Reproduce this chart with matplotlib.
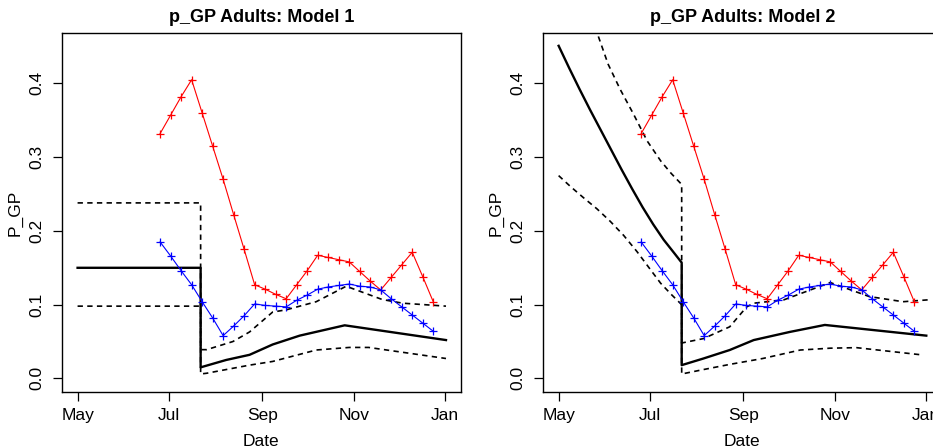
import pandas as pd
import matplotlib
matplotlib.use("Agg")
import matplotlib.pyplot as plt
import matplotlib.dates as mdates

plt.rcParams['font.family'] = ['Liberation Sans', 'DejaVu Sans']

start = pd.Timestamp("2009-05-01")

# weekly observed series (both panels share them)
obs_dates = pd.date_range("2009-06-25", periods=27, freq="7D")
red_vals = [0.332, 0.357, 0.382, 0.405, 0.360, 0.315, 0.270, 0.222, 0.175,
            0.127, 0.121, 0.114, 0.108, 0.127, 0.146, 0.167, 0.164, 0.161,
            0.158, 0.145, 0.132, 0.120, 0.137, 0.154, 0.171, 0.138, 0.104]
blue_vals = [0.185, 0.166, 0.146, 0.127, 0.104, 0.082, 0.058, 0.071, 0.085,
             0.101, 0.099, 0.098, 0.097, 0.106, 0.113, 0.121, 0.124, 0.126,
             0.128, 0.125, 0.124, 0.120, 0.108, 0.097, 0.086, 0.075, 0.064]

# model curves, x given as days since May 1
m1_mid_days = [0, 82, 82, 99, 114.6, 130, 148, 178, 245.5]
m1_mid_vals = [0.150, 0.150, 0.015, 0.025, 0.032, 0.046, 0.058, 0.072, 0.052]
m1_hi_days = [0, 82, 82, 86, 103.5, 114.6, 130, 139, 159, 179, 203, 216.6, 245.5]
m1_hi_vals = [0.238, 0.238, 0.039, 0.039, 0.050, 0.063, 0.090, 0.093, 0.104,
              0.125, 0.107, 0.102, 0.098]
m1_lo_days = [0, 82, 82, 86, 114.6, 130, 159, 181, 194, 245.5]
m1_lo_vals = [0.098, 0.098, 0.006, 0.007, 0.018, 0.023, 0.0385, 0.042, 0.042, 0.027]

m2_mid_days = [0, 7, 14, 21, 28, 35, 42, 49, 56, 63, 70, 77, 82,
               82, 96.5, 114, 130, 154, 177.4, 245]
m2_mid_vals = [0.451, 0.421, 0.392, 0.364, 0.337, 0.310, 0.283, 0.257, 0.232,
               0.209, 0.188, 0.170, 0.157,
               0.018, 0.027, 0.0385, 0.052, 0.063, 0.0725, 0.058]
m2_hi_days = [0, 7, 14, 20, 26.6, 33, 41, 50, 59, 68, 75, 82,
              82, 96.5, 114, 125.3, 130, 150, 181, 207, 229.5, 246]
m2_hi_vals = [0.68, 0.62, 0.565, 0.515, 0.463, 0.426, 0.392, 0.358, 0.322,
              0.295, 0.278, 0.263,
              0.048, 0.054, 0.070, 0.097, 0.102, 0.1065, 0.130, 0.111, 0.104, 0.1065]
m2_lo_days = [0, 8, 16.6, 25.5, 34.4, 43.3, 52.2, 61, 68, 75, 82,
              82, 96.5, 114, 136, 161, 181, 198.5, 243]
m2_lo_vals = [0.275, 0.260, 0.245, 0.230, 0.213, 0.194, 0.172, 0.148, 0.129,
              0.114, 0.100,
              0.006, 0.012, 0.019, 0.027, 0.0385, 0.041, 0.0417, 0.0317]

titles = ["p_GP Adults: Model 1", "p_GP Adults: Model 2"]
yticks = [0.0, 0.1, 0.2, 0.3, 0.4]


def to_dates(days):
    return start + pd.to_timedelta(days, unit="D")


fig = plt.figure(figsize=(9.33, 4.48), dpi=100)
ax1 = fig.add_axes([0.0661, 0.1257, 0.428, 0.800])
ax2 = fig.add_axes([0.5817, 0.1257, 0.428, 0.800])

models = [
    (m1_mid_days, m1_mid_vals, m1_hi_days, m1_hi_vals, m1_lo_days, m1_lo_vals),
    (m2_mid_days, m2_mid_vals, m2_hi_days, m2_hi_vals, m2_lo_days, m2_lo_vals),
]

for ax, title, m in zip([ax1, ax2], titles, models):
    md, mv, hd, hv, ld, lv = m
    ax.plot(to_dates(md), mv, color="black", lw=1.7, solid_joinstyle="round")
    ax.plot(to_dates(hd), hv, color="black", lw=1.2, linestyle=(0, (3.2, 2.6)))
    ax.plot(to_dates(ld), lv, color="black", lw=1.2, linestyle=(0, (3.2, 2.6)))
    ax.plot(obs_dates, red_vals, color="red", lw=0.8, marker="+", ms=5.5, mew=0.9)
    ax.plot(obs_dates, blue_vals, color="blue", lw=0.8, marker="+", ms=5.5, mew=0.9)

    ax.set_xlim(start - pd.Timedelta(days=10.6), start + pd.Timedelta(days=255.5))
    ax.set_ylim(-0.018, 0.468)
    ax.xaxis.set_major_locator(mdates.MonthLocator(bymonth=[1, 5, 7, 9, 11]))
    ax.xaxis.set_major_formatter(mdates.DateFormatter("%b"))
    ax.set_yticks(yticks)
    ax.set_yticklabels(["0.0", "0.1", "0.2", "0.3", "0.4"], rotation=90, va="center")
    ax.tick_params(length=6.5, width=0.9, labelsize=12.5, direction="out")
    ax.tick_params(axis="x", pad=5)
    ax.tick_params(axis="y", pad=6)
    for s in ax.spines.values():
        s.set_linewidth(1.0)
    ax.set_title(title, fontsize=13, fontweight="bold", pad=8)
    ax.set_xlabel("Date", fontsize=12.5, labelpad=8)
    ax.set_ylabel("P_GP", fontsize=12.5, labelpad=5)

fig.savefig("out.png", dpi=100)
